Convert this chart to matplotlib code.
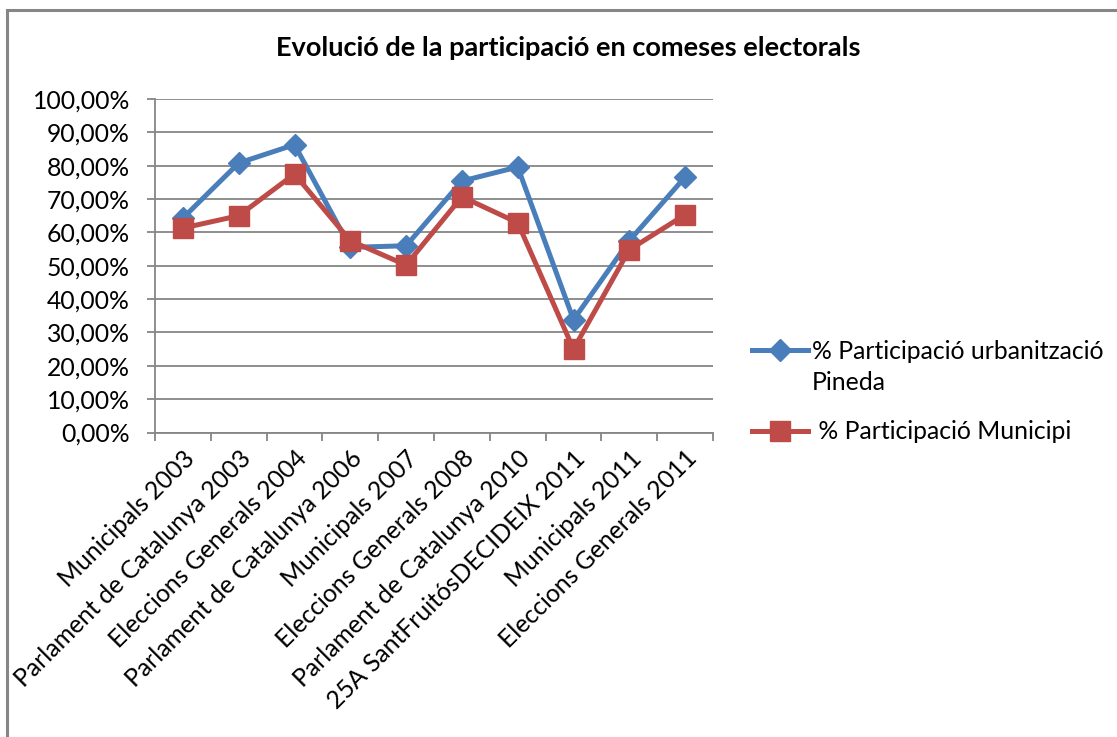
#coding: utf-8

import numpy as np
import matplotlib.pyplot as plt
from matplotlib.ticker import FixedLocator, FuncFormatter, MultipleLocator
from matplotlib.patches import Rectangle
from matplotlib.lines import Line2D

categories = ['Municipals 2003', 'Parlament de Catalunya 2003', 'Eleccions Generals 2004',
              'Parlament de Catalunya 2006', 'Municipals 2007', 'Eleccions Generals 2008',
              'Parlament de Catalunya 2010', '25A SantFruitósDECIDEIX 2011',
              'Municipals 2011', 'Eleccions Generals 2011']
pineda = [64.3, 80.8, 86.3, 55.5, 56.0, 75.4, 79.6, 33.8, 57.5, 76.6]
municipi = [61.3, 65.0, 77.5, 57.5, 50.2, 70.7, 62.9, 25.0, 54.8, 65.3]
label_pineda = '% Participació urbanització\nPineda'
label_municipi = ' % Participació Municipi'
title = 'Evolució de la participació en comeses electorals'

plt.rcParams['font.family'] = ['Lato', 'DejaVu Sans']

W, H = 1117, 737
fig = plt.figure(figsize=(W / 100, H / 100), dpi=100)
ax = fig.add_axes([155/W, 1 - 432.5/H, 558/W, 333.5/H])

grey = '#868686'
blue = '#4A7EBB'
red = '#BE4B48'
fs = 17.8
styles = [dict(color=blue, lw=3.6, marker='D', ms=11),
          dict(color=red, lw=3.6, marker='s', ms=14)]

x = np.arange(len(categories))
ax.plot(x, pineda, zorder=3, **styles[0])
ax.plot(x, municipi, zorder=4, **styles[1])

ax.set_xlim(-0.5, len(categories) - 0.5)
ax.set_ylim(0, 100)

ax.yaxis.set_major_locator(MultipleLocator(10))
ax.yaxis.set_major_formatter(FuncFormatter(lambda v, p: ('%.2f%%' % v).replace('.', ',')))
ax.xaxis.set_major_locator(FixedLocator(np.arange(-0.5, len(categories), 1.0)))
ax.xaxis.set_major_formatter(FuncFormatter(lambda v, p: ''))
ax.xaxis.set_minor_locator(FixedLocator(x))
ax.set_xticklabels(categories, minor=True, rotation=45, ha='right', va='top',
                   rotation_mode='anchor', fontsize=fs)
ax.tick_params(axis='x', which='minor', length=0, pad=10)
ax.tick_params(axis='both', which='major', direction='out', length=6, width=1.3,
               color=grey, labelsize=fs)
ax.tick_params(axis='y', pad=12)

ax.grid(True, axis='y', color=grey, lw=1.3)
ax.set_axisbelow(True)
for side in ['top', 'right']:
    ax.spines[side].set_visible(False)
for side in ['left', 'bottom']:
    ax.spines[side].set_color(grey)
    ax.spines[side].set_linewidth(1.3)

fig.text(568/W, 1 - 48/H, title, ha='center', va='center',
         fontsize=19.5, fontweight='bold')

# legend drawn by hand, Excel-like (handle aligned with first text line)
for (label, st, ly, base) in [(label_pineda, styles[0], 350, 390),
                              (label_municipi, styles[1], 431, 439)]:
    fig.add_artist(Line2D([752/W, 808/W], [1 - ly/H] * 2, transform=fig.transFigure,
                          color=st['color'], lw=st['lw']))
    fig.add_artist(Line2D([780/W], [1 - ly/H], transform=fig.transFigure,
                          color=st['color'], marker=st['marker'], ms=st['ms'], lw=0))
    fig.text(812/W, 1 - base/H, label, ha='left', va='baseline', fontsize=fs,
             linespacing=1.4)

# outer chart border (only top/left visible in the crop)
fig.patches.append(Rectangle((7/W, -0.1), 1.2, 1 - 10/H + 0.1,
                             transform=fig.transFigure, fill=False,
                             edgecolor=grey, lw=2.2))

fig.savefig('out.png', dpi=100)
